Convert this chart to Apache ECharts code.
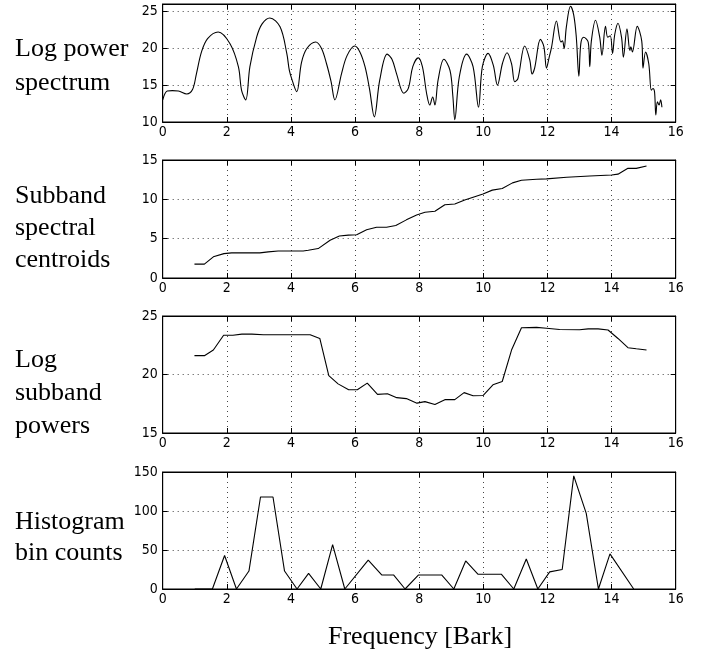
<!DOCTYPE html>
<html>
<head>
<meta charset="utf-8">
<script src="https://cdn.jsdelivr.net/npm/echarts@6/dist/echarts.min.js"></script>
<style>html,body{margin:0;padding:0;background:#fff;}#c{width:705px;height:659px;}</style>
</head>
<body>
<div id="c"></div>
<script>
// ---- data ----
var spectrum = [[0,13.0],[0.14,14.2],[0.3,14.25],[0.49,14.2],[0.75,13.8],[0.93,14.4],[1.05,16.5],[1.21,19.5],[1.4,21.3],[1.73,22.2],[2.1,20.6],[2.36,17.5],[2.46,14.3],[2.59,13.0],[2.72,17.5],[2.93,21.5],[3.1,23.3],[3.34,24.1],[3.66,22.9],[3.87,19.3],[3.95,17.0],[4.05,15.5],[4.18,14.1],[4.33,18.1],[4.5,20.0],[4.77,20.85],[4.95,20.0],[5.11,17.9],[5.25,15.5],[5.37,13.0],[5.58,16.6],[5.75,19.0],[5.99,20.3],[6.15,19.5],[6.31,17.5],[6.45,14.5],[6.6,10.7],[6.77,15.7],[7.0,19.2],[7.15,18.5],[7.29,16.6],[7.52,13.9],[7.66,14.55],[7.8,17.5],[7.97,18.7],[8.1,17.5],[8.23,13.9],[8.33,12.3],[8.42,13.4],[8.49,12.3],[8.59,15.7],[8.77,18.5],[8.96,17.0],[9.05,13.5],[9.11,10.3],[9.25,16.1],[9.48,19.2],[9.68,17.5],[9.85,12.0],[9.97,17.5],[10.15,19.3],[10.31,17.7],[10.44,15.0],[10.6,18.0],[10.74,19.4],[10.88,17.9],[10.98,15.45],[11.08,15.9],[11.29,20.3],[11.45,18.4],[11.52,16.5],[11.6,17.3],[11.78,21.2],[11.89,20.2],[11.97,17.3],[12.05,18.7],[12.13,20.2],[12.28,23.7],[12.42,20.85],[12.47,21.0],[12.52,19.95],[12.59,22.9],[12.72,25.7],[12.82,24.5],[12.9,21.5],[12.98,16.2],[13.04,20.6],[13.13,21.5],[13.27,20.85],[13.32,17.5],[13.37,21.0],[13.5,23.8],[13.63,21.5],[13.7,19.05],[13.81,22.97],[13.88,21.5],[13.96,21.7],[14.03,19.3],[14.1,21.9],[14.2,23.4],[14.31,21.5],[14.37,18.8],[14.48,22.65],[14.57,19.7],[14.6,20.2],[14.65,19.5],[14.8,22.97],[14.94,21.0],[14.98,17.3],[15.06,19.5],[15.16,17.9],[15.24,14.3],[15.29,14.55],[15.34,14.1],[15.38,10.95],[15.43,12.75],[15.48,12.3],[15.53,13.0],[15.57,12.0]];

var centroids = [[0.99,1.76],[1.3,1.76],[1.58,2.69],[1.91,3.1],[2.15,3.19],[3.03,3.19],[3.29,3.32],[3.6,3.44],[4.38,3.44],[4.54,3.53],[4.85,3.74],[5.22,4.79],[5.51,5.33],[5.79,5.45],[6.05,5.5],[6.36,6.13],[6.67,6.46],[6.98,6.46],[7.27,6.68],[7.6,7.39],[7.92,8.02],[8.18,8.35],[8.49,8.48],[8.8,9.32],[9.11,9.4],[9.42,9.91],[9.73,10.33],[9.99,10.67],[10.28,11.17],[10.59,11.37],[10.91,12.09],[11.19,12.43],[11.66,12.56],[11.97,12.6],[12.6,12.8],[13.32,12.97],[14.0,13.1],[14.2,13.2],[14.51,13.94],[14.77,13.94],[15.09,14.23]];

var subbandPowers = [[0.99,21.61],[1.3,21.61],[1.58,22.09],[1.9,23.36],[2.19,23.36],[2.47,23.45],[2.78,23.45],[3.14,23.4],[3.77,23.4],[4.6,23.4],[4.9,23.08],[5.18,19.9],[5.47,19.2],[5.8,18.7],[6.07,18.7],[6.38,19.26],[6.7,18.3],[7.01,18.36],[7.3,18.02],[7.6,17.94],[7.93,17.55],[8.18,17.68],[8.49,17.43],[8.8,17.85],[9.11,17.85],[9.4,18.45],[9.68,18.19],[9.99,18.2],[10.3,19.12],[10.59,19.4],[10.88,22.09],[11.19,24.0],[11.66,24.03],[11.97,23.95],[12.38,23.84],[13.0,23.82],[13.27,23.9],[13.58,23.9],[13.89,23.8],[14.2,23.08],[14.51,22.29],[14.77,22.2],[15.09,22.09]];

var histogram = [[1.0,0],[1.55,0],[1.93,43],[2.3,0],[2.69,23],[3.05,118],[3.44,118],[3.8,23],[4.19,0],[4.55,20],[4.93,0],[5.3,57],[5.68,0],[6.41,37],[6.83,18],[7.2,18],[7.56,0],[7.98,18],[8.7,18],[9.08,0],[9.45,36],[9.83,19],[10.56,19],[10.95,0],[11.34,38.5],[11.7,0],[12.07,22],[12.46,25],[12.82,145],[13.21,97],[13.59,0],[13.95,45],[14.69,0]];

var panelLabels = [["Log power","spectrum"],["Subband","spectral","centroids"],["Log","subband","powers"],["Histogram","bin counts"]];
var yRanges = [[10,26,5],[0,15,5],[15,25,5],[0,150,50]];
var xTitle = "Frequency [Bark]";

// ---- layout ----
var gridTops = [4,160,316,472];
var gridHeights = [118,118,117,117];
var labelY = [[50,84],[197,229,261],[361,394,427],[523,554]];
var serif = "'Liberation Serif','Times New Roman',serif";
var narrow = "'Liberation Sans Narrow','Arial Narrow','DejaVu Sans Condensed',sans-serif";

var grids = [], xAxes = [], yAxes = [], series = [];
var allData = [spectrum, centroids, subbandPowers, histogram];
var dotted = {show:true, lineStyle:{color:'#444', width:1, type:[1,4]}};
for (var i=0;i<4;i++){
  grids.push({left:162.7, width:513, top:gridTops[i], height:gridHeights[i], show:true, borderColor:'#000', borderWidth:1, backgroundColor:'#fff'});
  xAxes.push({type:'value', gridIndex:i, position:'bottom', min:0, max:16, interval:2,
    axisLine:{show:true, onZero:false, lineStyle:{color:'#000', width:1}},
    axisTick:{show:true, inside:true, length:5, lineStyle:{color:'#000'}},
    axisLabel:{show:true, margin:3, color:'#000', fontSize:14, fontFamily:narrow},
    splitLine:dotted});
  xAxes.push({type:'value', gridIndex:i, position:'top', min:0, max:16, interval:2,
    axisLine:{show:true, onZero:false, lineStyle:{color:'#000', width:1}},
    axisTick:{show:true, inside:true, length:5, lineStyle:{color:'#000'}},
    axisLabel:{show:false}, splitLine:{show:false}});
  var r = yRanges[i];
  yAxes.push({type:'value', gridIndex:i, position:'left', min:r[0], max:r[1], interval:r[2],
    axisLine:{show:true, onZero:false, lineStyle:{color:'#000', width:1}},
    axisTick:{show:true, inside:true, length:5, lineStyle:{color:'#000'}},
    axisLabel:{show:true, margin:5, color:'#000', fontSize:14, fontFamily:narrow, showMaxLabel: (r[1] % r[2] === 0)},
    splitLine:dotted});
  yAxes.push({type:'value', gridIndex:i, position:'right', min:r[0], max:r[1], interval:r[2],
    axisLine:{show:true, onZero:false, lineStyle:{color:'#000', width:1}},
    axisTick:{show:true, inside:true, length:5, lineStyle:{color:'#000'}},
    axisLabel:{show:false}, splitLine:{show:false}});
  series.push({type:'line', xAxisIndex:2*i, yAxisIndex:2*i, data:allData[i], showSymbol:false, symbol:'none',
    smooth: i===0 ? 0.35 : false, lineStyle:{color:'#000', width:1.1}, silent:true, animation:false, z:5});
}

var graphics = [];
for (var p=0;p<4;p++){
  for (var k=0;k<panelLabels[p].length;k++){
    graphics.push({type:'text', left:15, top:labelY[p][k]-14, style:{text:panelLabels[p][k], fill:'#000', font:'26px '+serif}});
  }
}
graphics.push({type:'text', x:420, y:637, style:{text:xTitle, fill:'#000', font:'26px '+serif, textAlign:'center', textVerticalAlign:'middle'}});

var chart = echarts.init(document.getElementById('c'), null, {renderer:'canvas'});
chart.setOption({animation:false, backgroundColor:'#fff', grid:grids, xAxis:xAxes, yAxis:yAxes, series:series, graphic:graphics});
</script>
</body>
</html>
